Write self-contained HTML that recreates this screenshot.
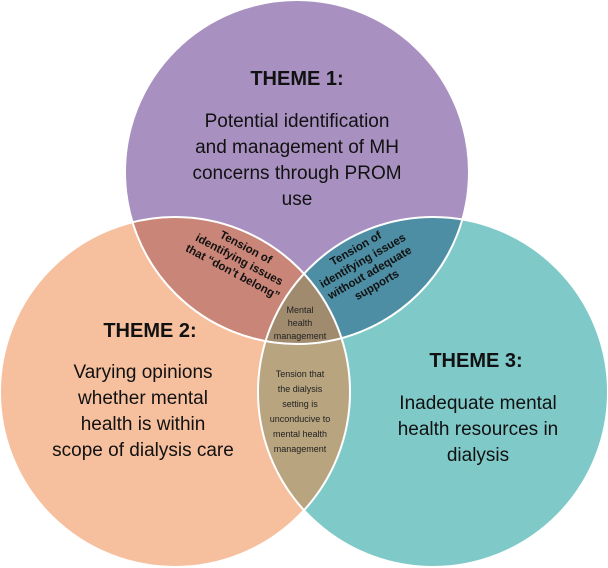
<!DOCTYPE html>
<html><head><style>body{margin:0;background:#fff}svg{display:block}</style></head><body>
<svg width="608" height="568" viewBox="0 0 608 568" xmlns="http://www.w3.org/2000/svg" font-family="Liberation Sans, sans-serif">
<defs>
<clipPath id="c1"><circle cx="297" cy="172" r="172"/></clipPath>
<clipPath id="c2"><circle cx="175" cy="392" r="175"/></clipPath>
<clipPath id="c3"><circle cx="433" cy="392" r="175"/></clipPath>
</defs>
<circle cx="297" cy="172" r="172" fill="#a891c0"/>
<circle cx="175" cy="392" r="175" fill="#f6c09e"/>
<circle cx="433" cy="392" r="175" fill="#80c9c9"/>
<g clip-path="url(#c1)"><circle cx="175" cy="392" r="175" fill="#c98577"/><circle cx="433" cy="392" r="175" fill="#4e8ea4"/></g>
<g clip-path="url(#c2)"><circle cx="433" cy="392" r="175" fill="#b8a47f"/></g>
<g clip-path="url(#c1)"><g clip-path="url(#c2)"><circle cx="433" cy="392" r="175" fill="#a08b6e"/></g></g>
<g fill="none" stroke="#fff" stroke-width="2"><circle cx="297" cy="172" r="172"/><circle cx="175" cy="392" r="175"/><circle cx="433" cy="392" r="175"/></g>
<g text-anchor="middle" fill="#111">
<text x="297" y="85" font-size="20" font-weight="bold">THEME 1:</text>
<g font-size="19"><text x="297" y="127">Potential identification</text><text x="297" y="153">and management of MH</text><text x="297" y="179">concerns through PROM</text><text x="297" y="205">use</text></g>
<text x="150" y="337" font-size="20" font-weight="bold">THEME 2:</text>
<g font-size="19"><text x="143" y="378">Varying opinions</text><text x="143" y="404">whether mental</text><text x="143" y="430">health is within</text><text x="143" y="456">scope of dialysis care</text></g>
<text x="476" y="367" font-size="20" font-weight="bold">THEME 3:</text>
<g font-size="19"><text x="478" y="409">Inadequate mental</text><text x="478" y="435">health resources in</text><text x="478" y="461">dialysis</text></g>
<g font-size="11.5" font-weight="bold" transform="translate(238,262) rotate(28)"><text x="0" y="-13">Tension of</text><text x="0" y="1">identifying issues</text><text x="0" y="15">that “don’t belong”</text></g>
<g font-size="11.5" font-weight="bold" transform="translate(364,263) rotate(-30)"><text x="0" y="-13">Tension of</text><text x="0" y="1">identifying issues</text><text x="0" y="15">without adequate</text><text x="0" y="29">supports</text></g>
<g font-size="9" fill="#222"><text x="300" y="313">Mental</text><text x="300" y="326">health</text><text x="300" y="339">management</text>
<text x="300" y="377">Tension that</text><text x="300" y="392">the dialysis</text><text x="300" y="407">setting is</text><text x="300" y="422">unconducive to</text><text x="300" y="437">mental health</text><text x="300" y="452">management</text></g>
</g>
</svg>
</body></html>
